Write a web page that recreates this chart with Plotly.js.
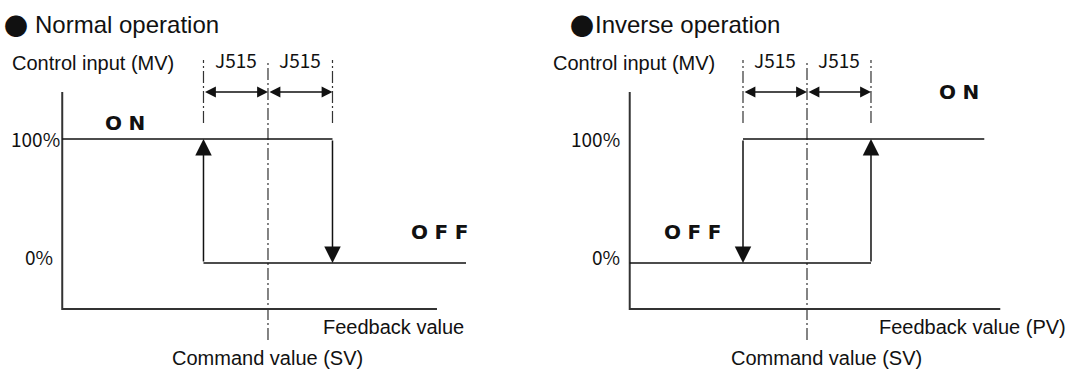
<!DOCTYPE html>
<html>
<head>
<meta charset="utf-8">
<script src="https://cdn.plot.ly/plotly-3.0.1.min.js"></script>
<style>
  html, body { margin: 0; padding: 0; background: #ffffff; }
  #chart { width: 1069px; height: 371px; }
</style>
</head>
<body>
<div id="chart"></div>
<script>
(function () {
  "use strict";

  // x: feedback value measured from the command value (SV), in units of J515
  // y: control input (MV), %
  const SV = 0;
  const J515 = 1;
  const LEVEL_ON = 100;
  const LEVEL_OFF = 0;

  // Normal operation: ON until PV reaches SV + J515, OFF until PV falls to SV - J515
  const normalOnX = [-3.19, SV + J515];
  const normalOffX = [SV - J515, 3.07];
  const normalSwitchX = [SV + J515, SV - J515];
  const normalSwitchFrom = [LEVEL_ON, LEVEL_OFF];
  const normalSwitchTo = [LEVEL_OFF, LEVEL_ON];

  // Inverse operation: OFF until PV reaches SV + J515, ON until PV falls to SV - J515
  const inverseOnX = [SV - J515, 2.77];
  const inverseOffX = [-2.77, SV + J515];
  const inverseSwitchX = [SV - J515, SV + J515];
  const inverseSwitchFrom = [LEVEL_ON, LEVEL_OFF];
  const inverseSwitchTo = [LEVEL_OFF, LEVEL_ON];

  // hand-drawn axes of each diagram
  const normalFrameX = [-3.19, 2.62];
  const inverseFrameX = [-2.77, 3.02];
  const frameY = [-37.1, 137.9];

  // dash-dot guides at SV - J515, SV, SV + J515
  const guideX = [SV - J515, SV, SV + J515];
  const guideTop = [163.7, 163.7, 163.7];
  const guideBottom = [112.9, -62.1, 112.9];
  const spanY = 137.9;

  const levelLabels = ["100%", "0%"];
  const levelValues = [LEVEL_ON, LEVEL_OFF];

  const SANS = "Liberation Sans, Arial, sans-serif";
  const GOTHIC = "Noto Sans CJK JP, sans-serif";
  const STATE = "DejaVu Sans, sans-serif";
  const INK = "#111111";
  const AXIS_INK = "#333333";

  function text(ax, str, x, y, size, family, xanchor) {
    return {
      xref: ax.x, yref: ax.y, x: x, y: y, text: str, showarrow: false,
      xanchor: xanchor || "center", yanchor: "middle",
      font: { family: family || SANS, size: size || 20, color: INK }
    };
  }

  function arrow(ax, opts) {
    // head at (x, y), tail at (ax, ay), both in data units
    const a = {
      xref: ax.x, yref: ax.y, axref: ax.x, ayref: ax.y,
      text: "", showarrow: true, standoff: 0, startstandoff: 0,
      arrowcolor: INK, arrowwidth: 1.5
    };
    return Object.assign(a, opts);
  }

  function diagram(ax, cfg) {
    const traces = [];
    const notes = [];
    const line = (x, y, color, width, dash) => ({
      type: "scatter", mode: "lines", x: x, y: y, xaxis: ax.x, yaxis: ax.y,
      hoverinfo: "skip", line: { color: color, width: width, dash: dash || "solid" }
    });

    traces.push(line([cfg.frameX[0], cfg.frameX[0], cfg.frameX[1]], [frameY[1], frameY[0], frameY[0]], AXIS_INK, 2));
    guideX.forEach((gx, i) => {
      traces.push(line([gx, gx], [guideBottom[i], guideTop[i]], AXIS_INK, 1.2, "12px,3px,2px,3px"));
    });
    traces.push(line(cfg.onX, [LEVEL_ON, LEVEL_ON], INK, 1.5));
    traces.push(line(cfg.offX, [LEVEL_OFF, LEVEL_OFF], INK, 1.5));

    cfg.switchX.forEach((sx, i) => {
      notes.push(arrow(ax, {
        x: sx, y: cfg.switchTo[i], ax: sx, ay: cfg.switchFrom[i],
        arrowhead: 2, arrowsize: 2.2
      }));
    });

    [[SV - J515, SV], [SV, SV + J515]].forEach((span) => {
      notes.push(arrow(ax, {
        x: span[1], y: spanY, ax: span[0], ay: spanY,
        arrowhead: 2, startarrowhead: 2, arrowside: "end+start",
        arrowsize: 1.45, startarrowsize: 1.45
      }));
      notes.push(text(ax, "J515", (span[0] + span[1]) / 2, 164.5, 19, GOTHIC));
    });

    notes.push(text(ax, "●", cfg.bulletX, 192, 24, GOTHIC));
    notes.push(text(ax, cfg.title, cfg.titleX, 192, 24, SANS, "left"));
    notes.push(text(ax, "Control input (MV)", -4.0, 161.3, 20, SANS, "left"));
    levelLabels.forEach((lab, i) => {
      notes.push(text(ax, lab, cfg.levelLabelX[i], levelValues[i] + (i ? 5.6 : 0.8), 19, GOTHIC));
    });
    notes.push(text(ax, "<b>O\u2004N</b>", cfg.onLabel[0], cfg.onLabel[1], 20, STATE));
    notes.push(text(ax, "<b>O\u2004F\u2004F</b>", cfg.offLabel[0], cfg.offLabel[1], 20, STATE));
    notes.push(text(ax, cfg.pvLabel, cfg.pvX, -51.6, 20, SANS, "left"));
    notes.push(text(ax, "Command value (SV)", cfg.svX, -76.6, 20, SANS));

    return { traces, notes };
  }

  const left = diagram({ x: "x", y: "y" }, {
    frameX: normalFrameX, onX: normalOnX, offX: normalOffX,
    switchX: normalSwitchX, switchFrom: normalSwitchFrom, switchTo: normalSwitchTo,
    title: "Normal operation", bulletX: -3.9, titleX: -3.64,
    levelLabelX: [-3.6, -3.55], onLabel: [-2.22, 112.9], offLabel: [2.67, 25],
    pvLabel: "Feedback value", pvX: 0.82, svX: 0
  });

  const right = diagram({ x: "x2", y: "y2" }, {
    frameX: inverseFrameX, onX: inverseOnX, offX: inverseOffX,
    switchX: inverseSwitchX, switchFrom: inverseSwitchFrom, switchTo: inverseSwitchTo,
    title: "Inverse operation", bulletX: -3.52, titleX: -3.34,
    levelLabelX: [-3.3, -3.14], onLabel: [2.375, 137.9], offLabel: [-1.78, 25],
    pvLabel: "Feedback value (PV)", pvX: 1.09, svX: 0.3
  });

  const hidden = { visible: false, fixedrange: true };

  Plotly.newPlot(
    "chart",
    left.traces.concat(right.traces),
    {
      width: 1069,
      height: 371,
      margin: { t: 0, b: 0, l: 0, r: 0 },
      paper_bgcolor: "#ffffff",
      plot_bgcolor: "#ffffff",
      showlegend: false,
      xaxis: Object.assign({ domain: [0, 0.5], range: [-4.155, 4.132] }, hidden),
      yaxis: Object.assign({ domain: [0, 1], range: [-87.1, 212.1] }, hidden),
      xaxis2: Object.assign({ domain: [0.5, 1], range: [-4.258, 4.094], anchor: "y2" }, hidden),
      yaxis2: Object.assign({ domain: [0, 1], range: [-87.1, 212.1], anchor: "x2" }, hidden),
      annotations: left.notes.concat(right.notes)
    },
    { displayModeBar: false, staticPlot: true }
  );
})();
</script>
</body>
</html>
